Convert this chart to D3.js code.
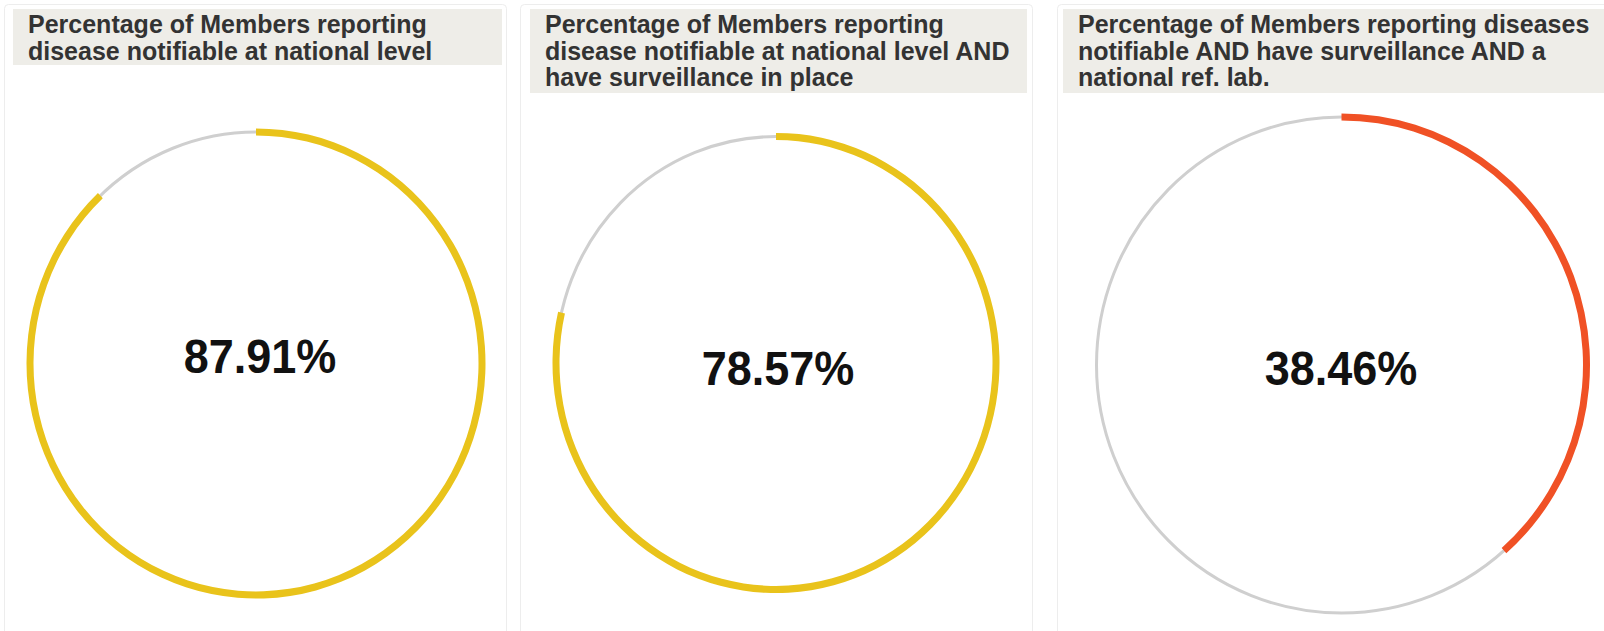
<!DOCTYPE html>
<html>
<head>
<meta charset="utf-8">
<title>Members reporting</title>
<script src="https://cdn.jsdelivr.net/npm/d3@7"></script>
<style>
  body { margin: 0; background: #fff; font-family: "Liberation Sans", Arial, sans-serif; }
  .panel { fill: #fff; stroke: #ededed; stroke-width: 1px; }
  .titlebox { fill: #eeede8; }
  .title { font-size: 25px; font-weight: bold; fill: #333; }
  .value { font-size: 45px; font-weight: bold; fill: #111; text-anchor: middle; }
  .track { fill: none; stroke: #cfcfcf; stroke-width: 3px; }
</style>
</head>
<body>
<script>
// chart values
var titles = [
  ["Percentage of Members reporting", "disease notifiable at national level"],
  ["Percentage of Members reporting", "disease notifiable at national level AND", "have surveillance in place"],
  ["Percentage of Members reporting diseases", "notifiable AND have surveillance AND a", "national ref. lab."]
];
var percents = [87.91, 78.57, 38.46];
var colors = ["#e9c31b", "#e9c31b", "#f05125"];

// layout per panel (boxes, ring geometry - the source image is slightly stretched vertically)
var panels = [
  {x: 4, w: 502, tx: 13, tw: 489, th: 56, cx: 256, cy: 363.5, rx: 226, ry: 231.5, vx: 260, vy: 373},
  {x: 520, w: 512, tx: 530, tw: 497, th: 84, cx: 776, cy: 363, rx: 220, ry: 226.5, vx: 778, vy: 385},
  {x: 1057, w: 560, tx: 1063, tw: 560, th: 84, cx: 1341.5, cy: 365, rx: 245, ry: 248, vx: 1341, vy: 385}
];

var W = 1604, H = 631;
var svg = d3.select("body").append("svg")
    .attr("width", W)
    .attr("height", H);

var angle = d3.scaleLinear().domain([0, 100]).range([0, 2 * Math.PI]);

var g = svg.selectAll("g.card")
    .data(panels)
    .enter().append("g")
    .attr("class", "card");

g.append("rect")
    .attr("class", "panel")
    .attr("x", function(d) { return d.x + 0.5; })
    .attr("y", 4.5)
    .attr("width", function(d) { return d.w; })
    .attr("height", 640)
    .attr("rx", 4);

g.append("rect")
    .attr("class", "titlebox")
    .attr("x", function(d) { return d.tx; })
    .attr("y", 9)
    .attr("width", function(d) { return d.tw; })
    .attr("height", function(d) { return d.th; });

g.append("text")
    .attr("class", "title")
    .selectAll("tspan")
    .data(function(d, i) { return titles[i].map(function(t) { return {t: t, x: d.tx + 15}; }); })
    .enter().append("tspan")
    .attr("x", function(d) { return d.x; })
    .attr("y", function(d, j) { return 33 + j * 26.5; })
    .text(function(d) { return d.t; });

// ring group, stretched to the ellipse of the source
var ring = g.append("g")
    .attr("transform", function(d) { return "translate(" + d.cx + "," + d.cy + ") scale(1," + (d.ry / d.rx) + ")"; });

// grey track
ring.append("circle")
    .attr("class", "track")
    .attr("r", function(d) { return d.rx; });

// coloured arc, clockwise from 12 o'clock
ring.append("path")
    .attr("fill", function(d, i) { return colors[i]; })
    .attr("d", function(d, i) {
      return d3.arc()
        .innerRadius(d.rx - 3.5)
        .outerRadius(d.rx + 3.5)
        .startAngle(0)
        .endAngle(angle(percents[i]))();
    });

g.append("text")
    .attr("class", "value")
    .attr("transform", function(d) { return "translate(" + d.vx + "," + d.vy + ") scale(1,1.08)"; })
    .text(function(d, i) { return d3.format(".2f")(percents[i]) + "%"; });
</script>
</body>
</html>
